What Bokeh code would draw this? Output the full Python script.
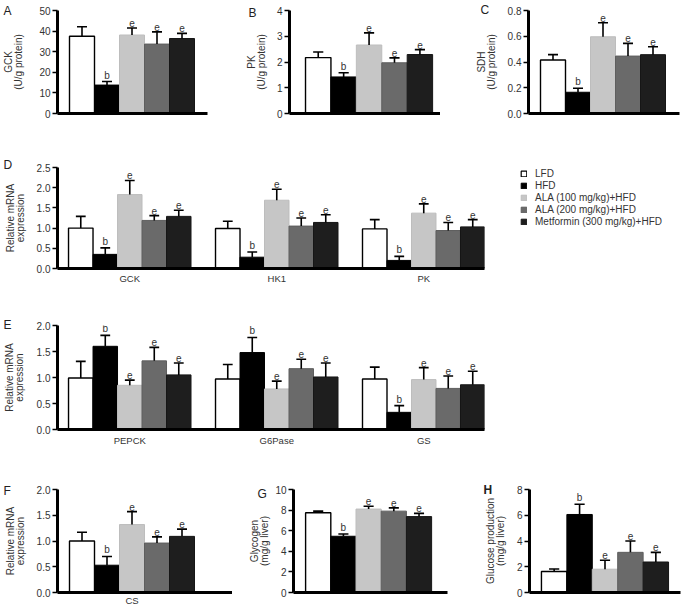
from bokeh.plotting import figure
from bokeh.layouts import row, column
from bokeh.models import ColumnDataSource, FixedTicker, Label, Legend, LegendItem, Range1d
from bokeh.embed import file_html
from bokeh.resources import INLINE
from bokeh.core.properties import value

# ---------------- data ----------------
groups = ["LFD", "HFD", "ALA (100 mg/kg)+HFD", "ALA (200 mg/kg)+HFD", "Metformin (300 mg/kg)+HFD"]
bar_colors = ["#ffffff", "#000000", "#c6c6c6", "#6a6a6a", "#1e1e1e"]
edge_colors = ["#000000", "#000000", "#bdbdbd", "#5e5e5e", "#161616"]

sig_std = ["", "b", "e", "e", "e"]

# A: GCK activity
A_means = [37.5, 13.8, 38.1, 33.7, 36.4]
A_sem = [4.6, 1.7, 3.4, 5.9, 2.5]
A_yticks = [0, 10, 20, 30, 40, 50]
A_ylabels = ["0", "10", "20", "30", "40", "50"]

# B: PK activity
B_means = [2.17, 1.42, 2.66, 1.97, 2.29]
B_sem = [0.22, 0.16, 0.47, 0.19, 0.19]
B_yticks = [0, 1, 2, 3, 4]
B_ylabels = ["0", "1", "2", "3", "4"]

# C: SDH activity
C_means = [0.415, 0.165, 0.596, 0.446, 0.457]
C_sem = [0.042, 0.031, 0.109, 0.099, 0.062]
C_yticks = [0, 0.2, 0.4, 0.6, 0.8]
C_ylabels = ["0.0", "0.2", "0.4", "0.6", "0.8"]

# D: glycolysis genes
D_genes = ["GCK", "HK1", "PK"]
D_means = [[1.00, 0.35, 1.83, 1.19, 1.29],
           [0.99, 0.28, 1.69, 1.05, 1.14],
           [0.98, 0.20, 1.37, 0.94, 1.03]]
D_sem = [[0.29, 0.16, 0.35, 0.12, 0.15],
         [0.18, 0.13, 0.27, 0.20, 0.19],
         [0.23, 0.10, 0.23, 0.20, 0.18]]
D_yticks = [0, 0.5, 1.0, 1.5, 2.0, 2.5]
D_ylabels = ["0.0", "0.5", "1.0", "1.5", "2.0", "2.5"]

# E: gluconeogenesis / glycogen genes
E_genes = ["PEPCK", "G6Pase", "GS"]
E_means = [[0.99, 1.60, 0.85, 1.32, 1.05],
           [0.97, 1.48, 0.78, 1.17, 1.01],
           [0.97, 0.33, 0.96, 0.79, 0.86]]
E_sem = [[0.32, 0.21, 0.10, 0.26, 0.23],
         [0.28, 0.29, 0.15, 0.18, 0.27],
         [0.23, 0.13, 0.23, 0.24, 0.26]]
E_yticks = [0, 0.5, 1.0, 1.5, 2.0]
E_ylabels = ["0.0", "0.5", "1.0", "1.5", "2.0"]

# F: CS
F_genes = ["CS"]
F_means = [1.00, 0.53, 1.32, 0.96, 1.09]
F_sem = [0.17, 0.17, 0.25, 0.12, 0.14]
F_yticks = [0, 0.5, 1.0, 1.5, 2.0]
F_ylabels = ["0.0", "0.5", "1.0", "1.5", "2.0"]

# G: glycogen
G_means = [7.75, 5.46, 8.10, 7.90, 7.37]
G_sem = [0.15, 0.22, 0.28, 0.32, 0.31]
G_yticks = [0, 2, 4, 6, 8, 10]
G_ylabels = ["0", "2", "4", "6", "8", "10"]

# H: glucose production
H_means = [1.63, 6.06, 1.81, 3.12, 2.37]
H_sem = [0.20, 0.80, 0.69, 0.88, 0.75]
H_yticks = [0, 2, 4, 6, 8]
H_ylabels = ["0", "2", "4", "6", "8"]

FONT = "Liberation Sans"
TXT = "#333333"


def panel(letter, ylabel, genes, means, sems, sigs, yticks, ylabels, geom,
          letter_pos, label_standoff=9, letter_bold=False, xlabel_standoff=3):
    W, H, L, T, B, R, x0, x1 = geom
    p = figure(width=W, height=H, x_range=Range1d(x0, x1), y_range=Range1d(0, yticks[-1]),
               output_backend="svg", toolbar_location=None, title=None,
               min_border_left=L, min_border_right=R, min_border_top=T, min_border_bottom=B)
    p.outline_line_color = None
    p.xgrid.visible = False
    p.ygrid.visible = False
    p.background_fill_color = "white"
    p.border_fill_color = "white"

    n = len(means)
    rends = []
    for s in range(5):
        xs = [g * 6 + s for g in range(n)]
        tops = [means[g][s] for g in range(n)]
        his = [means[g][s] + sems[g][s] for g in range(n)]
        src = ColumnDataSource(dict(x=xs, top=tops, hi=his,
                                    cl=[x - 0.2 for x in xs], cr=[x + 0.2 for x in xs],
                                    sig=[sigs[g][s] for g in range(n)]))
        r = p.vbar(x="x", top="top", bottom=0, width=1.0, source=src,
                   fill_color=bar_colors[s], line_color=edge_colors[s],
                   line_width=1.4 if s == 0 else 1.0)
        p.segment(x0="x", y0="top", x1="x", y1="hi", source=src, line_color="black", line_width=1.6)
        p.segment(x0="cl", y0="hi", x1="cr", y1="hi", source=src, line_color="black", line_width=1.6)
        p.text(x="x", y="hi", text="sig", source=src, text_align="center", text_baseline="bottom",
               y_offset=-1, text_font=value(FONT), text_font_size="10px", text_color=TXT)
        rends.append((r, src))

    ya = p.yaxis[0]
    ya.ticker = FixedTicker(ticks=yticks)
    ya.major_label_overrides = {t: l for t, l in zip(yticks, ylabels)}
    ya.minor_tick_line_color = None
    ya.major_tick_in = 0
    ya.major_tick_out = 5
    ya.major_tick_line_width = 1.5
    ya.axis_line_width = 3
    ya.major_label_standoff = 2
    ya.major_label_text_font = FONT
    ya.major_label_text_font_size = "10px"
    ya.major_label_text_color = TXT
    ya.axis_label = ylabel
    ya.axis_label_text_font = FONT
    ya.axis_label_text_font_size = "10px"
    ya.axis_label_text_font_style = "normal"
    ya.axis_label_text_color = TXT
    ya.axis_label_text_line_height = 0.9
    ya.axis_label_standoff = label_standoff

    xa = p.xaxis[0]
    if genes:
        cticks = [g * 6 + 2 for g in range(len(genes))]
        xa.ticker = FixedTicker(ticks=cticks)
        xa.major_label_overrides = {t: gname for t, gname in zip(cticks, genes)}
    else:
        xa.ticker = FixedTicker(ticks=[])
    xa.minor_tick_line_color = None
    xa.major_tick_in = 0
    xa.major_tick_out = 0
    xa.axis_line_width = 3
    xa.major_label_standoff = xlabel_standoff
    xa.major_label_text_font = FONT
    xa.major_label_text_font_size = "9.5px"
    xa.major_label_text_color = TXT

    lx, ly = letter_pos
    p.add_layout(Label(x=lx, y=ly + 3, x_units="screen", y_units="screen", text=letter,
                       text_baseline="top", text_align="left", text_font=FONT,
                       text_font_size="12px", text_color="#222222",
                       text_font_style="bold" if letter_bold else "normal"), "above")
    return p, rends


# geometry: (width, height, min_border_left, top, bottom, right, x_start, x_end)
pA, _ = panel("A", "GCK\n(U/g protein)", None, [A_means], [A_sem], [sig_std], A_yticks, A_ylabels,
              (220, 156, 57, 15, 36, 13, -0.98, 5.02), (-54, 4), label_standoff=12)
pB, _ = panel("B", "PK\n(U/g protein)", None, [B_means], [B_sem], [sig_std], B_yticks, B_ylabels,
              (220, 156, 69, 16, 36, 0, -1.13, 4.81), (-41, 2), label_standoff=7)
pC, _ = panel("C", "SDH\n(U/g protein)", None, [C_means], [C_sem], [sig_std], C_yticks, C_ylabels,
              (245, 156, 88, 17, 36, 6, -0.98, 5.06), (-48, 5), label_standoff=8)

pD, rD = panel("D", "Relative mRNA\nexpression", D_genes, D_means, D_sem, [sig_std] * 3, D_yticks, D_ylabels,
               (490, 161, 57, 15, 42, 6, -0.95, 16.48), (-54, 7), label_standoff=8, xlabel_standoff=4)

# legend panel next to D: its legend renderers share D's series data but are hidden
pL = figure(width=195, height=161, x_range=Range1d(0, 1), y_range=Range1d(0, 1),
            output_backend="svg", toolbar_location=None, title=None,
            x_axis_type=None, y_axis_type=None,
            min_border_left=30, min_border_right=0, min_border_top=18, min_border_bottom=0)
pL.outline_line_color = None
legend_rends = []
for s in range(5):
    lr = pL.vbar(x="x", top="top", bottom=0, width=1.0, source=rD[s][1],
                 fill_color=bar_colors[s], line_color=edge_colors[s],
                 line_width=1.2 if s == 0 else 1.0)
    lr.visible = False
    legend_rends.append(lr)
legend = Legend(items=[LegendItem(label=groups[s], renderers=[legend_rends[s]]) for s in range(5)],
                location="top_left", orientation="vertical", glyph_width=7, glyph_height=7,
                label_standoff=8, spacing=0, label_height=12, padding=0, margin=0,
                border_line_color=None, background_fill_alpha=0,
                inactive_fill_alpha=0,
                label_text_font=FONT, label_text_font_size="10px", label_text_color=TXT)
pL.add_layout(legend)

pE, _ = panel("E", "Relative mRNA\nexpression", E_genes, E_means, E_sem, [sig_std] * 3, E_yticks, E_ylabels,
              (490, 162, 57, 15, 43, 6, -0.95, 16.48), (-54, 5), label_standoff=9, xlabel_standoff=5)

pF, _ = panel("F", "Relative mRNA\nexpression", F_genes, [F_means], [F_sem], [sig_std], F_yticks, F_ylabels,
              (232, 136, 57, 15, 16, 0, -0.98, 6.02), (-54, 3), label_standoff=8, xlabel_standoff=2)
pG, _ = panel("G", "Glycogen\n(mg/g liver)", None, [G_means], [G_sem], [sig_std], G_yticks, G_ylabels,
              (218, 136, 61, 15, 16, 3, -0.98, 5.13), (-36, 0), label_standoff=2)
pH, _ = panel("H", "Glucose production\n(mg/g liver)", None, [H_means], [H_sem], [sig_std], H_yticks, H_ylabels,
              (235, 136, 79, 17, 15, 5, -0.97, 4.97), (-46, 4), label_standoff=8, letter_bold=True)

layout = column(row(pA, pB, pC), row(pD, pL), pE, row(pF, pG, pH), margin=(-7, 0, 0, 0))

open("out.html", "w").write(file_html(layout, INLINE))
